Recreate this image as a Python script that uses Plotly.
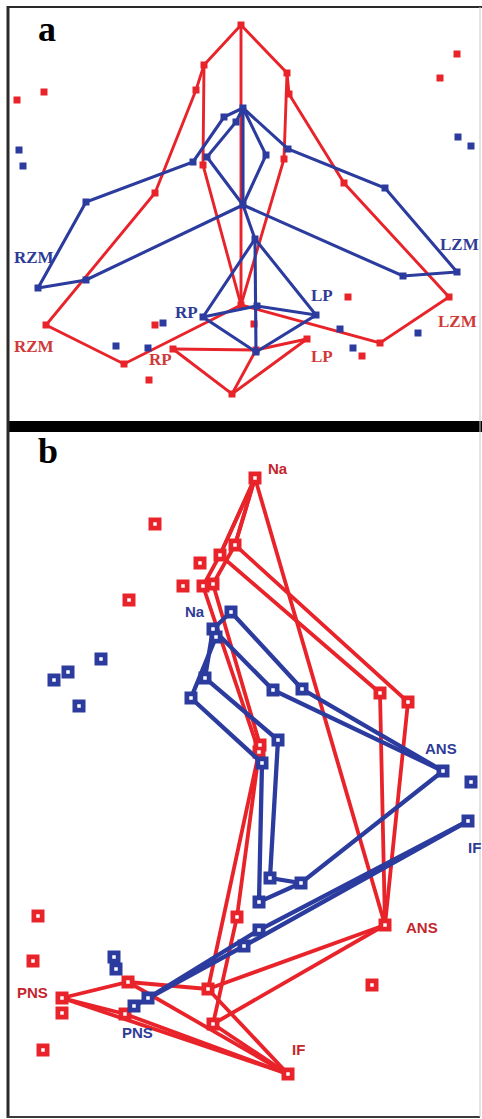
import plotly.graph_objects as go

W, H = 482, 1119

RED = "#E8232A"
BLUE = "#2B3B9E"
RED_TXT_A = "#D03A3A"
BLUE_TXT_A = "#2E3C96"
RED_TXT_B = "#C4262C"
BLUE_TXT_B = "#2E3C96"

# ---------------- panel a (landmark coordinates) ----------------
A_RED_PATHS = [
    [(241, 25), (204, 65), (196, 90), (155, 193), (46, 325), (124, 364), (241, 305)],
    [(241, 25), (287, 73), (289, 94), (344, 183), (449, 297), (380, 343), (241, 305)],
    [(241, 25), (241, 305)],
    [(204, 65), (203, 165), (241, 305)],
    [(287, 73), (284, 159), (241, 305)],
    [(173, 349), (256, 350), (307, 339)],
    [(173, 349), (232, 394), (307, 339)],
    [(232, 394), (256, 350)],
]
A_RED_POINTS = [(17, 100), (44, 92), (457, 54), (440, 78), (155, 325), (149, 380),
                (348, 297), (362, 356), (254, 324)]
A_RED_LABELS = [("RZM", 12, 347), ("RP", 147, 360), ("LZM", 436, 322), ("LP", 309, 357)]

A_BLUE_PATHS = [
    [(243, 108), (288, 149), (385, 188), (457, 272), (403, 276), (243, 205)],
    [(243, 108), (224, 117), (193, 162), (86, 202), (38, 288), (86, 280), (243, 205)],
    [(243, 108), (266, 155), (243, 205)],
    [(243, 108), (236, 122), (207, 157), (243, 205)],
    [(243, 108), (243, 205), (255, 239)],
    [(255, 239), (203, 317), (256, 352), (316, 315), (255, 239)],
    [(255, 239), (256, 352)],
    [(203, 317), (257, 306), (316, 315)],
]
A_BLUE_POINTS = [(19, 150), (23, 166), (458, 137), (471, 146), (163, 323), (116, 346),
                 (148, 348), (340, 329), (418, 333), (353, 348)]
A_BLUE_LABELS = [("RZM", 12, 258), ("RP", 173, 313), ("LZM", 438, 245), ("LP", 309, 296)]

# ---------------- panel b ----------------
B_RED_PATHS = [
    [(255, 478), (385, 925)],
    [(255, 478), (235, 545), (408, 702), (385, 925)],
    [(255, 478), (220, 555), (380, 693), (385, 925)],
    [(255, 478), (235, 545), (213, 584), (260, 745), (237, 917), (213, 1024)],
    [(255, 478), (220, 555), (203, 586), (259, 752), (208, 989)],
    [(385, 925), (208, 989)],
    [(385, 925), (213, 1024)],
    [(62, 998), (128, 982), (208, 989)],
    [(62, 998), (125, 1014), (288, 1074)],
    [(62, 998), (288, 1074)],
    [(128, 982), (288, 1074)],
    [(208, 989), (288, 1074)],
    [(213, 1024), (288, 1074)],
]
B_RED_POINTS = [(155, 524), (129, 600), (200, 563), (183, 586), (38, 916), (33, 961),
                (62, 1013), (43, 1050), (372, 985)]
B_RED_LABELS = [("Na", 266, 468), ("ANS", 404, 927), ("IF", 290, 1049), ("PNS", 15, 992)]

B_BLUE_PATHS = [
    [(231, 612), (302, 689), (443, 771)],
    [(213, 629), (273, 690), (443, 771)],
    [(231, 612), (213, 629), (205, 678), (278, 740), (270, 878), (301, 883), (443, 771)],
    [(216, 637), (191, 698), (262, 763), (259, 902), (301, 883)],
    [(134, 1006), (244, 946), (468, 821)],
    [(148, 998), (259, 930), (468, 821)],
]
B_BLUE_POINTS = [(101, 659), (68, 672), (54, 680), (79, 706), (471, 782), (114, 957), (116, 969)]
B_BLUE_LABELS = [("Na", 183, 611), ("ANS", 423, 748), ("IF", 466, 847), ("PNS", 120, 1032)]

# panel extents (pixels of the picture)
A_TOP, A_BOTTOM = 8, 423
B_TOP, B_BOTTOM = 432, 1117


def path_xy(paths):
    xs, ys = [], []
    for p in paths:
        for x, y in p:
            xs.append(x)
            ys.append(y)
        xs.append(None)
        ys.append(None)
    return xs, ys


def node_xy(paths, extra):
    seen = []
    for p in paths:
        for pt in p:
            if pt not in seen:
                seen.append(pt)
    for pt in extra:
        if pt not in seen:
            seen.append(pt)
    return [p[0] for p in seen], [p[1] for p in seen]


fig = go.Figure()


def add_series(paths, points, color, lw, panel):
    xa, ya = ("x", "y") if panel == "a" else ("x2", "y2")
    lx, ly = path_xy(paths)
    fig.add_trace(go.Scatter(x=lx, y=ly, mode="lines", xaxis=xa, yaxis=ya,
                             line=dict(color=color, width=lw), hoverinfo="skip",
                             cliponaxis=False))
    nx, ny = node_xy(paths, points)
    if panel == "a":
        fig.add_trace(go.Scatter(x=nx, y=ny, mode="markers", xaxis=xa, yaxis=ya,
                                 marker=dict(symbol="square", size=7, color=color,
                                             line=dict(width=0)),
                                 hoverinfo="skip", cliponaxis=False))
    else:
        fig.add_trace(go.Scatter(x=nx, y=ny, mode="markers", xaxis=xa, yaxis=ya,
                                 marker=dict(symbol="square", size=13, color=color,
                                             line=dict(width=0)),
                                 hoverinfo="skip", cliponaxis=False))
        fig.add_trace(go.Scatter(x=nx, y=ny, mode="markers", xaxis=xa, yaxis=ya,
                                 marker=dict(symbol="square", size=3.5, color="white",
                                             line=dict(width=0)),
                                 hoverinfo="skip", cliponaxis=False))


add_series(A_RED_PATHS, A_RED_POINTS, RED, 2.9, "a")
add_series(A_BLUE_PATHS, A_BLUE_POINTS, BLUE, 3.1, "a")
add_series(B_RED_PATHS, B_RED_POINTS, RED, 3.8, "b")
add_series(B_BLUE_PATHS, B_BLUE_POINTS, BLUE, 4.3, "b")

annotations = []
for txt, x, y in A_RED_LABELS:
    annotations.append(dict(text="<b>%s</b>" % txt, x=x, y=y, xref="x", yref="y",
                            xanchor="left", yanchor="middle", showarrow=False,
                            font=dict(family="Liberation Serif", size=17, color=RED_TXT_A)))
for txt, x, y in A_BLUE_LABELS:
    annotations.append(dict(text="<b>%s</b>" % txt, x=x, y=y, xref="x", yref="y",
                            xanchor="left", yanchor="middle", showarrow=False,
                            font=dict(family="Liberation Serif", size=17, color=BLUE_TXT_A)))
for txt, x, y in B_RED_LABELS:
    annotations.append(dict(text="<b>%s</b>" % txt, x=x, y=y, xref="x2", yref="y2",
                            xanchor="left", yanchor="middle", showarrow=False,
                            font=dict(family="Liberation Sans", size=15, color=RED_TXT_B)))
for txt, x, y in B_BLUE_LABELS:
    annotations.append(dict(text="<b>%s</b>" % txt, x=x, y=y, xref="x2", yref="y2",
                            xanchor="left", yanchor="middle", showarrow=False,
                            font=dict(family="Liberation Sans", size=15, color=BLUE_TXT_B)))
# panel letters
annotations.append(dict(text="<b>a</b>", x=36, y=29, xref="x", yref="y", xanchor="left",
                        yanchor="middle", showarrow=False,
                        font=dict(family="Liberation Serif", size=36, color="black")))
annotations.append(dict(text="<b>b</b>", x=36, y=451, xref="x2", yref="y2", xanchor="left",
                        yanchor="middle", showarrow=False,
                        font=dict(family="Liberation Serif", size=36, color="black")))


def px(x):
    return x / W


def py(y):
    return 1 - y / H


shapes = [
    # black separator band
    dict(type="rect", xref="paper", yref="paper", x0=px(7), x1=px(482), y0=py(432), y1=py(421),
         fillcolor="black", line=dict(width=0), layer="above"),
    # left border
    dict(type="line", xref="paper", yref="paper", x0=px(8), x1=px(8), y0=py(6), y1=py(1118),
         line=dict(color="#2a2a2a", width=3), layer="above"),
    # top border
    dict(type="line", xref="paper", yref="paper", x0=px(7), x1=px(482), y0=py(7), y1=py(7),
         line=dict(color="#2a2a2a", width=2), layer="above"),
    # bottom border
    dict(type="line", xref="paper", yref="paper", x0=px(7), x1=px(480), y0=py(1117), y1=py(1117),
         line=dict(color="#3a3a3a", width=2), layer="above"),
    # right border
    dict(type="line", xref="paper", yref="paper", x0=px(480), x1=px(480), y0=py(7), y1=py(1117),
         line=dict(color="#c8c8c8", width=1), layer="above"),
]

axis_common = dict(visible=False, showgrid=False, zeroline=False, fixedrange=True)
fig.update_layout(
    width=W, height=H,
    margin=dict(l=0, r=0, t=0, b=0),
    paper_bgcolor="white", plot_bgcolor="white",
    showlegend=False,
    xaxis=dict(domain=[0, 1], range=[0, W], anchor="y", **axis_common),
    yaxis=dict(domain=[py(A_BOTTOM), py(A_TOP)], range=[A_BOTTOM, A_TOP], anchor="x", **axis_common),
    xaxis2=dict(domain=[0, 1], range=[0, W], anchor="y2", **axis_common),
    yaxis2=dict(domain=[py(B_BOTTOM), py(B_TOP)], range=[B_BOTTOM, B_TOP], anchor="x2", **axis_common),
    annotations=annotations,
    shapes=shapes,
)

fig.write_html("out.html", config={"displayModeBar": False},
               post_script="document.body.style.margin='0px';document.body.style.padding='0px';document.body.style.overflow='hidden';")
